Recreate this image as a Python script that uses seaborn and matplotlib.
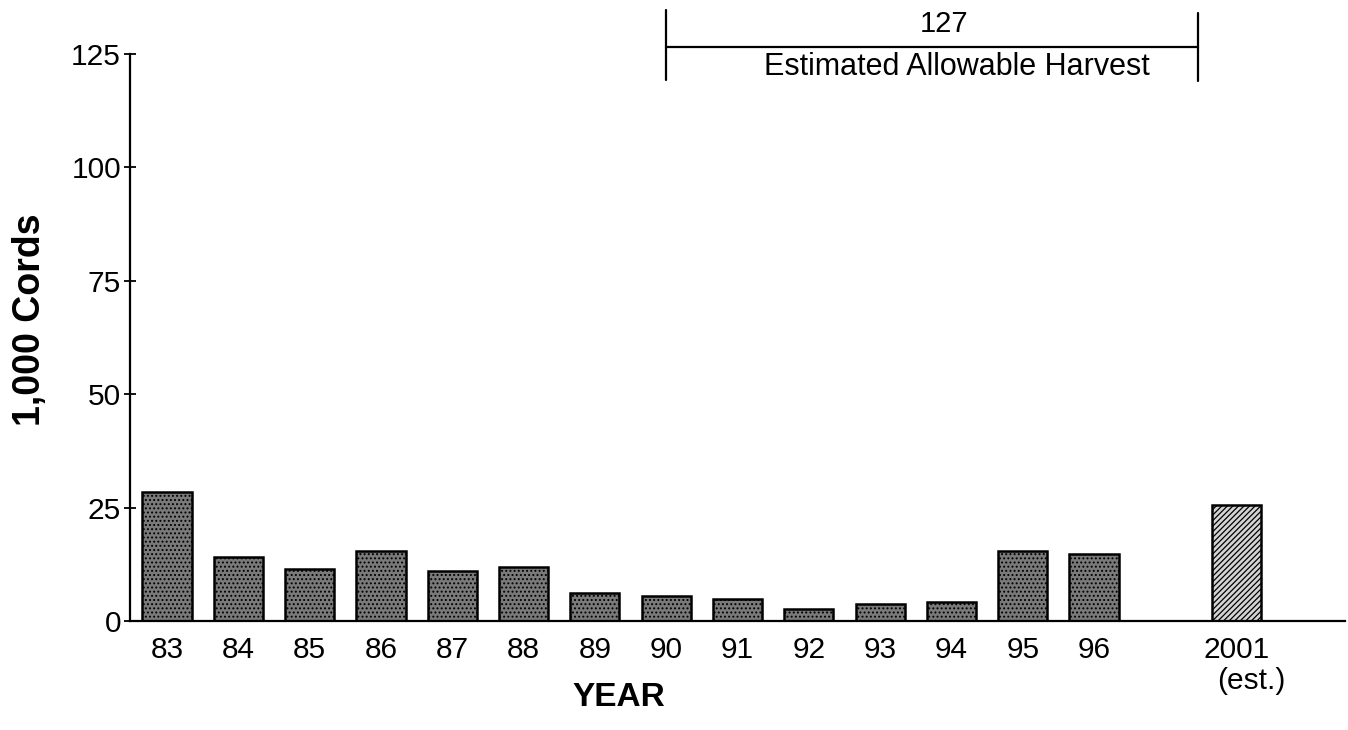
import matplotlib
matplotlib.use("Agg")
import matplotlib.pyplot as plt
import seaborn as sns
import pandas as pd

years = ["83", "84", "85", "86", "87", "88", "89", "90", "91", "92", "93", "94", "95", "96", "2001"]
cords = [28.5, 14.0, 11.4, 15.5, 11.0, 11.9, 6.1, 5.6, 4.8, 2.6, 3.7, 4.1, 15.4, 14.7, 25.5]
kinds = ["actual"] * 14 + ["estimate"]
order = years[:14] + [" "] + ["2001"]
yticks = [0, 25, 50, 75, 100, 125]
harvest_value = 127
harvest_label = "Estimated Allowable Harvest"

sns.set_theme(style="white")
plt.rcParams["font.family"] = ["Liberation Sans", "DejaVu Sans"]
plt.rcParams["hatch.linewidth"] = 0.9
for k in ["text.color", "axes.labelcolor", "xtick.color", "ytick.color", "axes.edgecolor"]:
    plt.rcParams[k] = "black"

df = pd.DataFrame({"year": years, "cords": cords, "kind": kinds})

fig = plt.figure(figsize=(13.48, 7.30), dpi=100)
ax = fig.add_axes([130 / 1348, 1 - 621 / 730, (1345 - 130) / 1348, (621 - 54) / 730])

sns.barplot(data=df, x="year", y="cords", order=order, color="#707070",
            width=0.69, edgecolor="black", linewidth=1.8, ax=ax, errorbar=None)

for p in ax.patches:
    cx = p.get_x() + p.get_width() / 2
    if cx > 14.5:
        p.set_facecolor("#d4d4d4")
        p.set_hatch("//////")
    else:
        p.set_facecolor("#7a7a7a")
        p.set_hatch("....")

ax.set_xlim(-0.52, 16.52)
ax.set_ylim(0, 125)
ax.set_yticks(yticks)
ax.set_yticklabels([str(v) for v in yticks], fontsize=21.5)
ax.set_xticks(range(len(order)))
ax.set_xticklabels(order, fontsize=21.5)
ax.tick_params(axis="x", bottom=False, length=0, pad=11)
ax.tick_params(axis="y", left=True, direction="inout", length=9, width=1.3, pad=2)

for s in ["top", "right"]:
    ax.spines[s].set_visible(False)
for s in ["left", "bottom"]:
    ax.spines[s].set_linewidth(1.6)

ax.text(15.2, -10.2, "(est.)", fontsize=21.5, ha="center", va="top")

ax.set_xlabel("")
ax.set_ylabel("")
fig.text(619 / 1348, 1 - 697 / 730, "YEAR", fontsize=24, fontweight="bold", ha="center", va="center")
fig.text(30 / 1348, 1 - 320 / 730, "1,000 Cords", fontsize=27, fontweight="bold",
         ha="center", va="center", rotation=90)

# bracket annotation
x0, x1 = 7, 14.46
ax.plot([x0, x1], [126.5, 126.5], color="black", lw=1.6, clip_on=False)
ax.plot([x0, x0], [119.3, 134.7], color="black", lw=1.6, clip_on=False)
ax.plot([x1, x1], [119.0, 134.0], color="black", lw=1.6, clip_on=False)
ax.text(10.9, 131.6, str(harvest_value), fontsize=21, ha="center", va="center", clip_on=False)
ax.text(11.08, 122.1, harvest_label, fontsize=22, ha="center", va="center", clip_on=False)

fig.savefig("out.png", dpi=100)
